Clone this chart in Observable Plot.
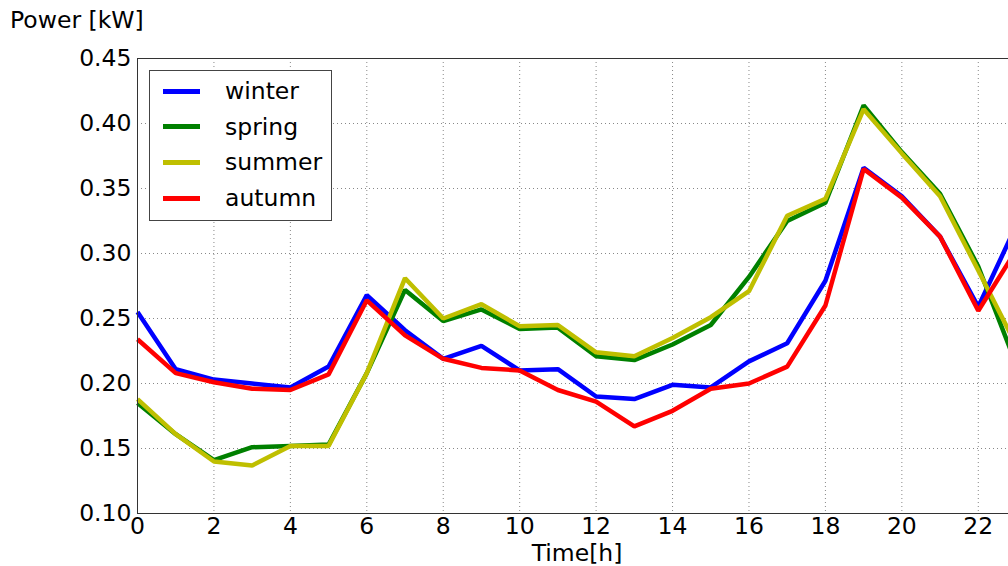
<!DOCTYPE html>
<html>
<head>
<meta charset="utf-8">
<script src="https://cdn.jsdelivr.net/npm/d3@7"></script>
<script src="https://cdn.jsdelivr.net/npm/@observablehq/plot@0.6"></script>
<style>
  html, body { margin: 0; padding: 0; background: #fff; overflow: hidden; }
  #chart { position: relative; width: 1008px; height: 566px; overflow: hidden; font-family: "DejaVu Sans", sans-serif; }
  #chart svg { position: absolute; left: 0; top: 0; max-width: none !important; }
  .ylab { position: absolute; left: 10px; top: 6px; font-size: 23.5px; color: #000; white-space: nowrap; }
  .xlab { position: absolute; left: 0; width: 1154px; top: 539px; text-align: center; font-size: 23.5px; color: #000; white-space: nowrap; }
  .legend { position: absolute; left: 149px; top: 70px; width: 181px; height: 149px; border: 1px solid #444; background: #fff; }
  .legend .row { position: absolute; left: 0; height: 36px; display: flex; align-items: center; }
  .legend .sw { display: inline-block; width: 37px; height: 5px; margin-left: 13px; }
  .legend .tx { font-size: 23.5px; margin-left: 25px; line-height: 24px; }
</style>
</head>
<body>
<div id="chart"></div>
<script>
// Hour of day
const hours = [0,1,2,3,4,5,6,7,8,9,10,11,12,13,14,15,16,17,18,19,20,21,22,23];

// Mean power per hour for each season [kW]
const winter = [0.255,0.211,0.203,0.200,0.197,0.213,0.268,0.241,0.219,0.229,0.210,0.211,0.190,0.188,0.199,0.197,0.217,0.231,0.279,0.366,0.344,0.313,0.259,0.322];
const spring = [0.185,0.161,0.141,0.151,0.152,0.153,0.208,0.272,0.248,0.257,0.242,0.243,0.221,0.218,0.230,0.245,0.282,0.325,0.339,0.414,0.378,0.346,0.290,0.214];
const summer = [0.188,0.161,0.140,0.137,0.152,0.152,0.208,0.281,0.250,0.261,0.244,0.245,0.224,0.221,0.235,0.251,0.271,0.329,0.342,0.411,0.377,0.344,0.287,0.229];
const autumn = [0.234,0.208,0.201,0.196,0.195,0.207,0.264,0.237,0.219,0.212,0.210,0.195,0.186,0.167,0.179,0.196,0.200,0.213,0.260,0.365,0.343,0.313,0.256,0.303];

const seasons = ["winter", "spring", "summer", "autumn"];
const seriesValues = [winter, spring, summer, autumn];
const colors = ["#0000ff", "#008000", "#bfbf00", "#ff0000"];

const xTicks = [0,2,4,6,8,10,12,14,16,18,20,22];
const yTicks = [0.10,0.15,0.20,0.25,0.30,0.35,0.40,0.45];

// Long-format table for the line mark
const rows = seasons.flatMap((s, i) => hours.map((h, j) => ({season: s, hour: h, power: seriesValues[i][j]})));

const plot = Plot.plot({
  width: 1040,
  height: 566,
  marginLeft: 137,
  marginRight: 24,
  marginTop: 58,
  marginBottom: 53,
  style: {fontFamily: "DejaVu Sans, sans-serif", fontSize: "23.5px", color: "#000", background: "transparent", overflow: "visible", maxWidth: "none"},
  x: {domain: [0, 23], label: null},
  y: {domain: [0.10, 0.45], label: null},
  color: {domain: seasons, range: colors},
  marks: [
    Plot.gridX(xTicks, {stroke: "#888", strokeOpacity: 1, strokeWidth: 1, strokeDasharray: "1,3"}),
    Plot.gridY(yTicks, {stroke: "#888", strokeOpacity: 1, strokeWidth: 1, strokeDasharray: "1,3"}),
    Plot.axisX(xTicks, {tickSize: 0, tickPadding: 4, fontSize: 23.5, label: null, tickFormat: d => String(d)}),
    Plot.axisY(yTicks, {tickSize: 0, tickPadding: 6, fontSize: 23.5, label: null, tickFormat: d => d.toFixed(2)}),
    Plot.line(rows, {x: "hour", y: "power", z: "season", stroke: "season", strokeWidth: 4.5, strokeLinejoin: "miter", strokeLinecap: "butt"}),
    Plot.frame({stroke: "#333", strokeWidth: 1})
  ]
});

const chart = document.getElementById("chart");
chart.appendChild(plot);

const ylab = document.createElement("div");
ylab.className = "ylab";
ylab.textContent = "Power [kW]";
chart.appendChild(ylab);

const xlab = document.createElement("div");
xlab.className = "xlab";
xlab.textContent = "Time[h]";
chart.appendChild(xlab);

// Legend box
const legend = document.createElement("div");
legend.className = "legend";
seasons.forEach((s, i) => {
  const row = document.createElement("div");
  row.className = "row";
  row.style.top = (2 + i * 35.7) + "px";
  const sw = document.createElement("span");
  sw.className = "sw";
  sw.style.background = colors[i];
  const tx = document.createElement("span");
  tx.className = "tx";
  tx.textContent = s;
  row.appendChild(sw);
  row.appendChild(tx);
  legend.appendChild(row);
});
chart.appendChild(legend);
</script>
</body>
</html>
